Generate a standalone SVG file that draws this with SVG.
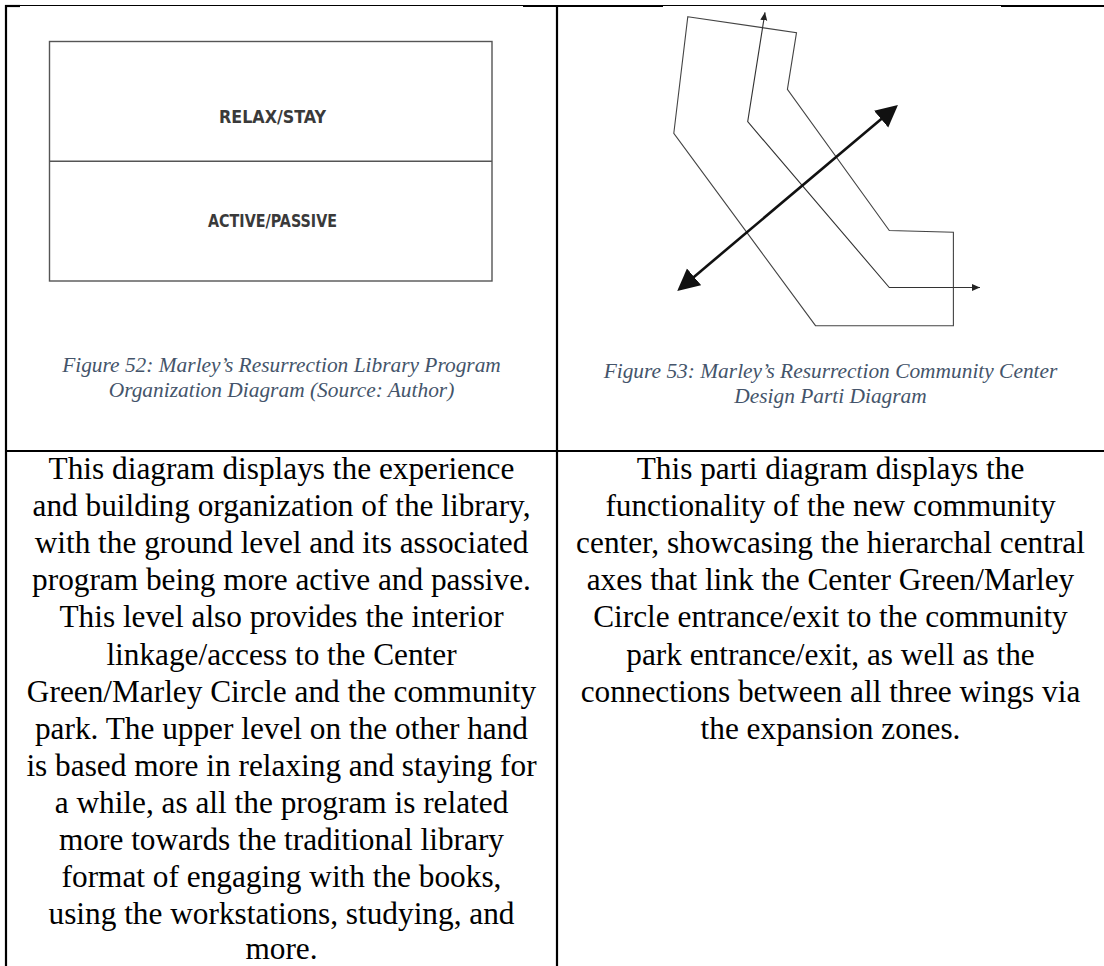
<svg xmlns="http://www.w3.org/2000/svg" width="1104" height="966" viewBox="0 0 1104 966">
<style>
.border{stroke:#000;fill:none}
.thick{stroke-width:2.2}
.thin{stroke-width:1}
.box{fill:none;stroke:#555;stroke-width:1.4}
.lbl{font-family:"DejaVu Sans Condensed","DejaVu Sans",sans-serif;font-weight:bold;font-size:18.5px;fill:#3a3a3a;text-anchor:middle}
.cap{font-family:"Liberation Serif",serif;font-style:italic;font-size:21.4px;fill:#44546A;text-anchor:middle}
.body{font-family:"Liberation Serif",serif;font-size:31.3px;fill:#000;text-anchor:middle}
.shape{fill:none;stroke:#444;stroke-width:1.1}
.thin-arrow{fill:none;stroke:#333;stroke-width:1.1}
.axis{fill:none;stroke:#111;stroke-width:2.6}
</style>
<defs>
<marker id="bigHead" markerUnits="userSpaceOnUse" markerWidth="26" markerHeight="26" refX="18" refY="11" orient="auto-start-reverse">
<path d="M0,0 L22,11 L0,22 z" fill="#111"/>
</marker>
<marker id="smallHead" markerUnits="userSpaceOnUse" markerWidth="10" markerHeight="8" refX="8" refY="3.5" orient="auto-start-reverse">
<path d="M0,0 L8,3.5 L0,7 z" fill="#222"/>
</marker>
</defs>
<rect x="0" y="0" width="1104" height="966" fill="#fff"/>

<g id="table">
<line class="border thick" x1="5" y1="6" x2="20" y2="6"/>
<line class="border thin" x1="20" y1="5.5" x2="523" y2="5.5"/>
<line class="border thick" x1="523" y1="6" x2="663" y2="6"/>
<line class="border thin" x1="663" y1="5.5" x2="1001" y2="5.5"/>
<line class="border thick" x1="1001" y1="6" x2="1104" y2="6"/>
<line class="border thick" x1="6" y1="5" x2="6" y2="966"/>
<line class="border thick" x1="557" y1="5" x2="557" y2="966"/>
<line class="border thick" x1="5" y1="451" x2="1104" y2="451"/>
</g>

<g id="fig52">
<rect class="box" x="49.5" y="41.5" width="442.5" height="239.5"/>
<line class="box" x1="49.5" y1="161.3" x2="492" y2="161.3"/>
<text class="lbl" x="272.5" y="123" textLength="107" lengthAdjust="spacingAndGlyphs">RELAX/STAY</text>
<text class="lbl" x="272.5" y="226.7" textLength="129" lengthAdjust="spacingAndGlyphs">ACTIVE/PASSIVE</text>
</g>

<g id="fig52-caption">
<text class="cap" x="281.5" y="372">Figure 52: Marley’s Resurrection Library Program</text>
<text class="cap" x="281.5" y="397">Organization Diagram (Source: Author)</text>
</g>

<g id="fig53">
<polygon class="shape" points="687.8,16.7 796.5,32.7 787.4,89.3 889.3,230.5 953.4,232.3 953.4,325.7 815.5,325.7 673.8,133.3"/>
</g>

<g id="connectors">
<polyline class="thin-arrow" points="765,12.3 747.7,121.7 889.3,287.5 980,287.5" marker-start="url(#smallHead)" marker-end="url(#smallHead)"/>
<line class="axis" x1="680.3" y1="288.4" x2="894.9" y2="107.6" marker-start="url(#bigHead)" marker-end="url(#bigHead)"/>
</g>

<g id="fig53-caption">
<text class="cap" x="830.5" y="378">Figure 53: Marley’s Resurrection Community Center</text>
<text class="cap" x="830.5" y="403">Design Parti Diagram</text>
</g>

<g id="left-text">
<text class="body" x="281.5" y="479">This diagram displays the experience</text>
<text class="body" x="281.5" y="516.1">and building organization of the library,</text>
<text class="body" x="281.5" y="553.2">with the ground level and its associated</text>
<text class="body" x="281.5" y="590.3">program being more active and passive.</text>
<text class="body" x="281.5" y="627.4">This level also provides the interior</text>
<text class="body" x="281.5" y="664.5">linkage/access to the Center</text>
<text class="body" x="281.5" y="701.6">Green/Marley Circle and the community</text>
<text class="body" x="281.5" y="738.7">park. The upper level on the other hand</text>
<text class="body" x="281.5" y="775.8">is based more in relaxing and staying for</text>
<text class="body" x="281.5" y="812.9">a while, as all the program is related</text>
<text class="body" x="281.5" y="850">more towards the traditional library</text>
<text class="body" x="281.5" y="887.1">format of engaging with the books,</text>
<text class="body" x="281.5" y="924.2">using the workstations, studying, and</text>
<text class="body" x="281.5" y="959">more.</text>
</g>

<g id="right-text">
<text class="body" x="830.5" y="479">This parti diagram displays the</text>
<text class="body" x="830.5" y="516.1">functionality of the new community</text>
<text class="body" x="830.5" y="553.2">center, showcasing the hierarchal central</text>
<text class="body" x="830.5" y="590.3">axes that link the Center Green/Marley</text>
<text class="body" x="830.5" y="627.4">Circle entrance/exit to the community</text>
<text class="body" x="830.5" y="664.5">park entrance/exit, as well as the</text>
<text class="body" x="830.5" y="701.6">connections between all three wings via</text>
<text class="body" x="830.5" y="738.7">the expansion zones.</text>
</g>
</svg>
